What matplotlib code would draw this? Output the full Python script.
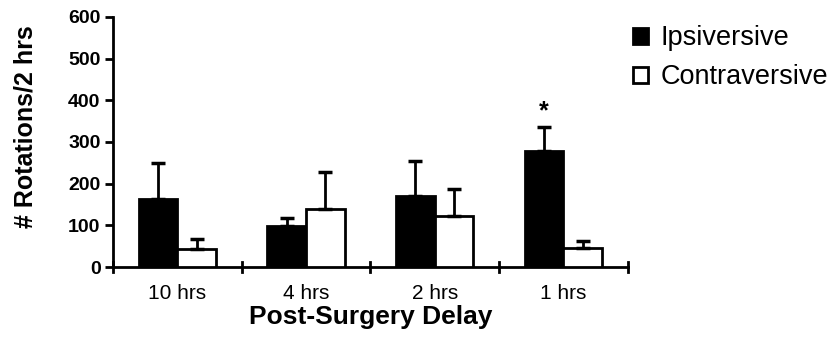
import matplotlib
matplotlib.use("Agg")
import matplotlib.pyplot as plt
import numpy as np

categories = ["10 hrs", "4 hrs", "2 hrs", "1 hrs"]
ipsi = [163, 98, 171, 279]
ipsi_err = [87, 19, 84, 58]
contra = [43, 139, 123, 46]
contra_err = [24, 90, 64, 17]
yticks = [0, 100, 200, 300, 400, 500, 600]

plt.rcParams['font.family'] = ['Liberation Sans', 'DejaVu Sans']

fig = plt.figure(figsize=(8.33, 3.45), dpi=100)
ax = fig.add_axes([0.1357, 0.226, 0.618, 0.725])

x = np.arange(len(categories))
w = 0.30
ekw = dict(elinewidth=2, capsize=5, capthick=2.5, ecolor='black')
ax.bar(x - w/2, ipsi, w, color='black', edgecolor='black', linewidth=2,
       yerr=[np.zeros(4), ipsi_err], error_kw=ekw, label='Ipsiversive', zorder=3)
ax.bar(x + w/2, contra, w, color='white', edgecolor='black', linewidth=2,
       yerr=[np.zeros(4), contra_err], error_kw=ekw, label='Contraversive', zorder=3)

ax.text(x[3] - w/2, 374, '*', ha='center', va='center', fontsize=18, fontweight='bold')

ax.set_xlim(-0.5, 3.5)
ax.set_ylim(0, 600)
ax.set_yticks(yticks)
ax.set_yticklabels([str(v) for v in yticks], fontsize=14, fontweight='bold')
ax.set_xticks(x)
ax.set_xticklabels(categories, fontsize=15)
ax.tick_params(axis='x', length=0, pad=12)
ax.tick_params(axis='y', length=6, width=2, direction='out', pad=3)
for b in [-0.5, 0.5, 1.5, 2.5, 3.5]:
    ax.plot([b, b], [-12, 12], color='black', lw=2, clip_on=False, zorder=4)

for s in ['top', 'right']:
    ax.spines[s].set_visible(False)
for s in ['left', 'bottom']:
    ax.spines[s].set_linewidth(2)

ax.set_xlabel('Post-Surgery Delay', fontsize=19, fontweight='bold', labelpad=2)
ax.set_ylabel('# Rotations/2 hrs', fontsize=18, fontweight='bold')
ax.yaxis.set_label_coords(-0.146, 0.56)

leg = fig.legend(loc='upper left', bbox_to_anchor=(0.747, 0.958), frameon=False,
                 prop={'size': 19.5}, handlelength=0.56, handleheight=0.56,
                 handletextpad=0.45, labelspacing=0.48, borderaxespad=0.0)

fig.savefig('out.png', dpi=100)
